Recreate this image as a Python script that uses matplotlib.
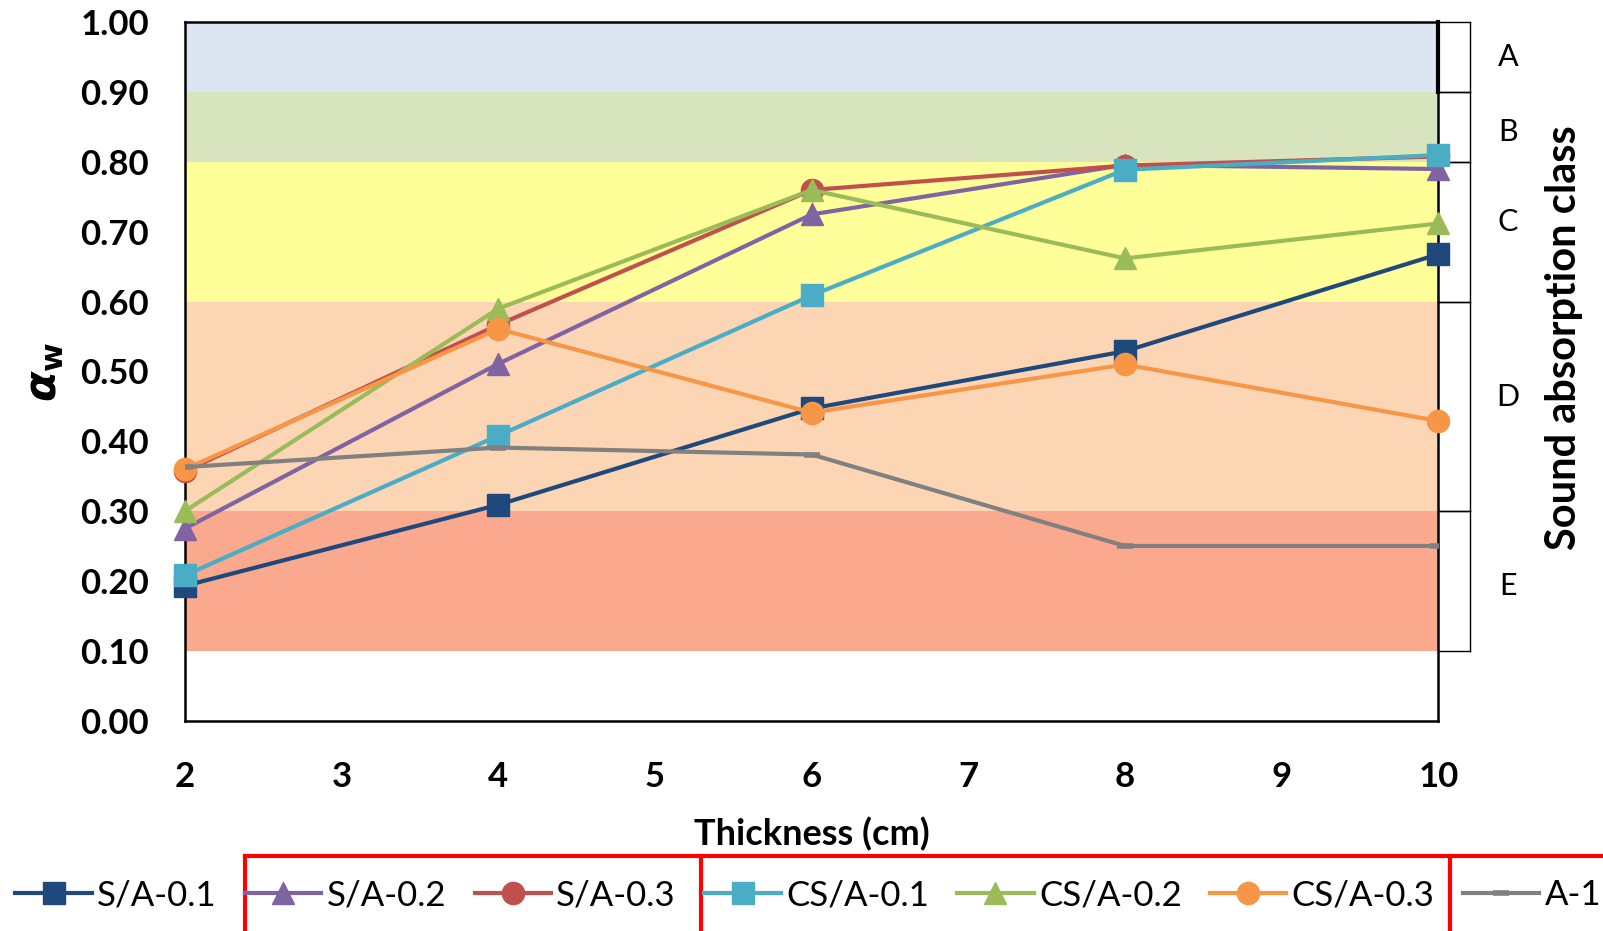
import numpy as np
import matplotlib

matplotlib.use("Agg")
import matplotlib.pyplot as plt
from matplotlib.lines import Line2D

plt.rcParams["font.family"] = ["Lato", "DejaVu Sans"]
plt.rcParams["mathtext.fontset"] = "dejavusans"

# data
thickness = [2, 4, 6, 8, 10]
sa_01 = [0.193, 0.309, 0.447, 0.529, 0.668]
sa_02 = [0.275, 0.511, 0.725, 0.796, 0.790]
sa_03 = [0.357, 0.567, 0.760, 0.795, 0.808]
csa_01 = [0.208, 0.408, 0.609, 0.789, 0.810]
csa_02 = [0.300, 0.590, 0.760, 0.662, 0.712]
csa_03 = [0.360, 0.561, 0.441, 0.510, 0.429]
a_1 = [0.363, 0.391, 0.381, 0.250, 0.250]

# absorption classes (lower, upper)
class_names = ["A", "B", "C", "D", "E"]
class_bounds = [(0.9, 1.0), (0.8, 0.9), (0.6, 0.8), (0.3, 0.6), (0.1, 0.3)]
class_colors = ["#DCE6F2", "#D7E4BD", "#FFFF99", "#FCD5B5", "#FBA98E"]
label_y = [0.95, 0.843, 0.714, 0.463, 0.193]

series = [
    ("S/A-0.1", sa_01, "#1F497D", "s"),
    ("S/A-0.2", sa_02, "#8064A2", "^"),
    ("S/A-0.3", sa_03, "#C0504D", "o"),
    ("CS/A-0.1", csa_01, "#4BACC6", "s"),
    ("CS/A-0.2", csa_02, "#9BBB59", "^"),
    ("CS/A-0.3", csa_03, "#F79646", "o"),
    ("A-1", a_1, "#808080", "_"),
]

fig = plt.figure(figsize=(16.03, 9.31), dpi=100)
ax = fig.add_axes([0.1154, 0.2261, 0.7819, 0.7498])

for (lo, hi), c in zip(class_bounds, class_colors):
    ax.axhspan(lo, hi, color=c, lw=0, zorder=0)

for name, vals, col, mk in series:
    if mk == "_":
        ax.plot(thickness, vals, color=col, lw=3, marker=mk, ms=12, mew=4,
                label=name, zorder=3)
    else:
        ax.plot(thickness, vals, color=col, lw=3, marker=mk, ms=16,
                label=name, zorder=3, clip_on=False)

ax.set_xlim(2, 10)
ax.set_ylim(0, 1)
ax.set_xticks(range(2, 11))
ax.set_yticks(np.arange(0, 1.01, 0.1))
ax.set_yticklabels([f"{v:.2f}" for v in np.arange(0, 1.01, 0.1)])
ax.tick_params(length=0, labelsize=25)
ax.tick_params(axis="y", pad=26)
ax.tick_params(axis="x", pad=29)
for lab in ax.get_xticklabels() + ax.get_yticklabels():
    lab.set_fontweight("bold")
for sp in ax.spines.values():
    sp.set_linewidth(1.8)

ax.set_xlabel("Thickness (cm)", fontsize=26, fontweight="bold", labelpad=17)
ax.set_ylabel(r"$\boldsymbol{\alpha}_{\mathbf{w}}$", fontsize=32, labelpad=10)

# class boxes on the right
tr = ax.get_yaxis_transform()
box_w = 1.0253
for lo, hi in class_bounds:
    ax.plot([1.0, box_w], [hi, hi], color="black", lw=1.0, transform=tr, clip_on=False)
    ax.plot([1.0, box_w], [lo, lo], color="black", lw=1.0, transform=tr, clip_on=False)
ax.plot([box_w, box_w], [0.1, 1.0], color="black", lw=1.0, transform=tr, clip_on=False)
ax.plot([1.0, 1.0], [0.9, 1.0], color="black", lw=3, transform=tr, clip_on=False)
for name, y in zip(class_names, label_y):
    ax.text(1.0555, y, name, transform=tr, fontsize=22, ha="center", va="center")
ax.text(1.100, 0.549, "Sound absorption class", transform=ax.transAxes,
        rotation=90, fontsize=30, fontweight="bold", ha="center", va="center")

fig.legend(loc="center left", bbox_to_anchor=(0.0096, 0.0384), ncol=7, frameon=False,
           fontsize=25, handlelength=2.2, handletextpad=0.15, columnspacing=0.82,
           borderaxespad=0, borderpad=0)

# red grouping boxes around the legend
red_kw = dict(color="#FF0000", lw=3, transform=fig.transFigure)
fig.add_artist(Line2D([0.153, 1.0], [0.0801, 0.0801], **red_kw))
for xv in [0.153, 0.4375, 0.9043]:
    fig.add_artist(Line2D([xv, xv], [0.0, 0.0801], **red_kw))

fig.savefig("out.png", dpi=100)
